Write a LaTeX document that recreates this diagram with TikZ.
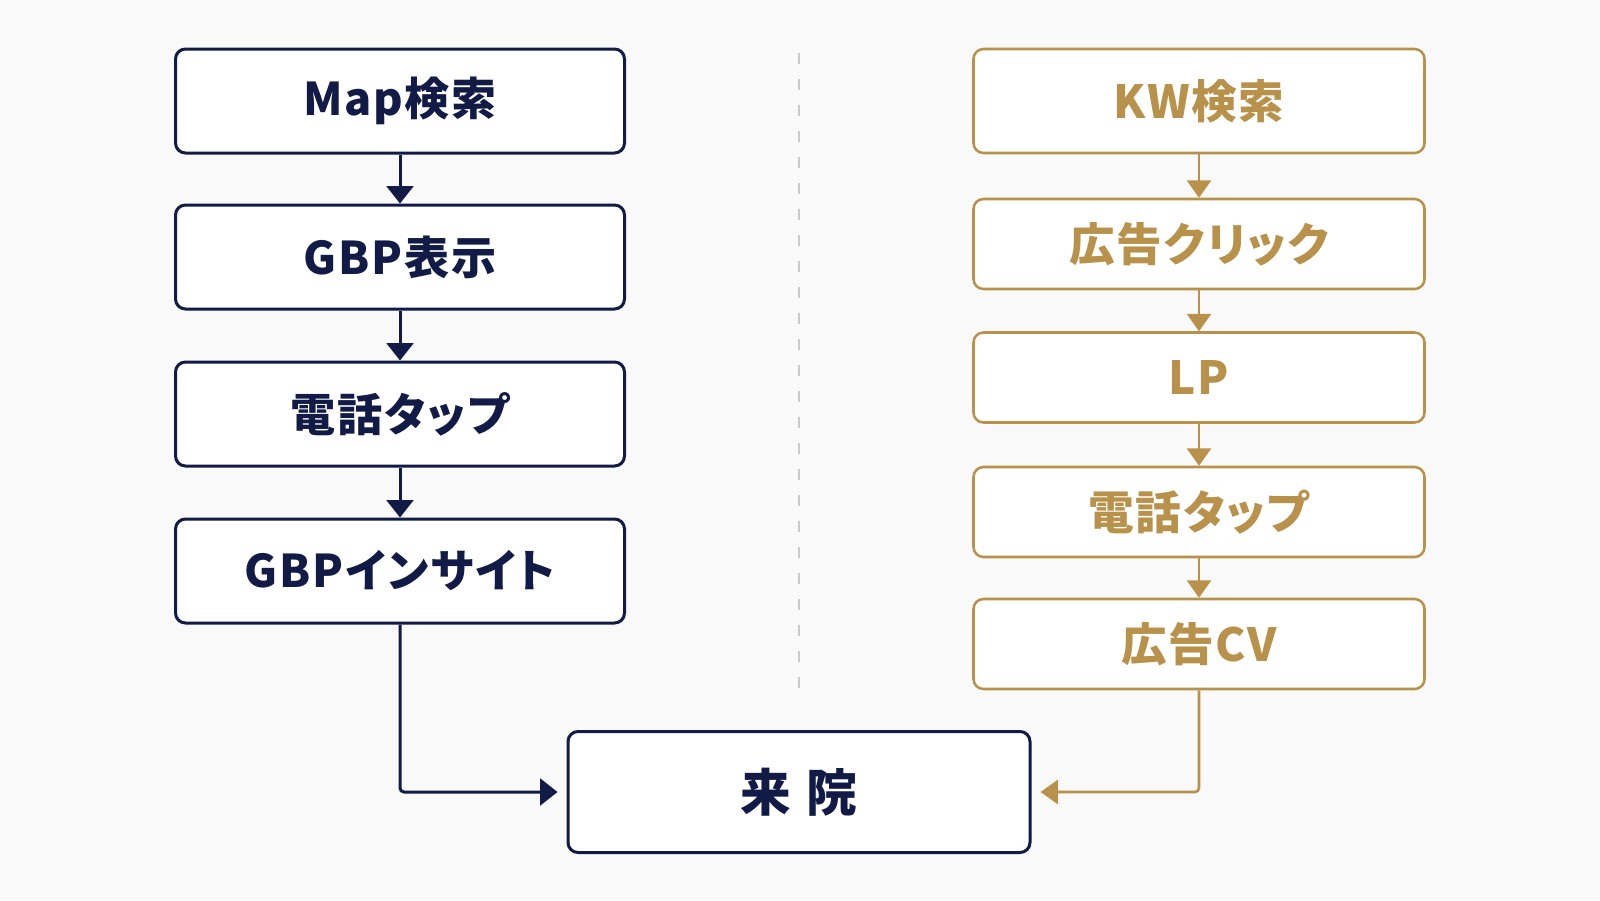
\documentclass[tikz,border=0pt]{standalone}
\usepackage{fontspec}
\usetikzlibrary{arrows.meta}
\newfontfamily\jp[LetterSpace=4,RawFeature=+palt]{Noto Sans CJK JP}
\newfontfamily\jpwide[LetterSpace=30]{Noto Sans CJK JP}
\definecolor{navy}{HTML}{121A46}
\definecolor{gold}{HTML}{B8914B}
\definecolor{bg}{HTML}{F9F9FA}
\definecolor{divider}{HTML}{C9C9CB}
\tikzset{
  navybox/.style={draw=navy, line width=2.25pt, fill=white, rounded corners=7.5pt,
    minimum width=336.75pt, minimum height=78pt, inner sep=0pt,
    font=\jp\bfseries\fontsize{33.8pt}{40pt}\selectfont, text=navy},
  goldbox/.style={draw=gold, line width=1.9pt, fill=white, rounded corners=7.5pt,
    minimum width=338.25pt, minimum height=67.5pt, inner sep=0pt,
    font=\jp\bfseries\fontsize{34.2pt}{40pt}\selectfont, text=gold},
  navyarrow/.style={draw=navy, line width=2.25pt, -{Triangle[width=20pt,length=13pt]}},
  goldarrow/.style={draw=gold, line width=1.9pt, -{Triangle[width=18pt,length=13pt]}},
}
\begin{document}
\begin{tikzpicture}[x=0.75pt,y=-0.75pt]
\fill[bg] (0,0) rectangle (1600,900);
\useasboundingbox (0,0) rectangle (1600,900);
% divider
\draw[divider, line width=1.5pt, dash pattern=on 8.25pt off 11.25pt] (799,53) -- (799,702);
% left column
\node[navybox] (l1) at (400,101) {Map検索};
\node[navybox] (l2) at (400,257) {GBP表示};
\node[navybox] (l3) at (400,414) {電話タップ};
\node[navybox] (l4) at (400,571) {GBPインサイト};
% right column
\node[goldbox, minimum height=78pt] (r1) at (1199,101) {KW検索};
\node[goldbox] (r2) at (1199,244) {広告クリック};
\node[goldbox] (r3) at (1199,377.5) {LP};
\node[goldbox] (r4) at (1199,512) {電話タップ};
\node[goldbox] (r5) at (1199,644) {広告CV};
% goal
\node[navybox, minimum width=346.5pt, minimum height=90.75pt,
  font=\jpwide\bfseries\fontsize{38pt}{44pt}\selectfont] (v) at (799,792) {来院};
% arrows
\draw[navyarrow] (l1.south) -- (l2.north);
\draw[navyarrow] (l2.south) -- (l3.north);
\draw[navyarrow] (l3.south) -- (l4.north);
\draw[navyarrow, rounded corners=3pt, shorten >=6.75pt] (l4.south) |- (v.west);
\draw[goldarrow] (r1.south) -- (r2.north);
\draw[goldarrow] (r2.south) -- (r3.north);
\draw[goldarrow] (r3.south) -- (r4.north);
\draw[goldarrow] (r4.south) -- (r5.north);
\draw[goldarrow, rounded corners=3pt, shorten >=6.75pt] (r5.south) |- (v.east);
\end{tikzpicture}
\end{document}
